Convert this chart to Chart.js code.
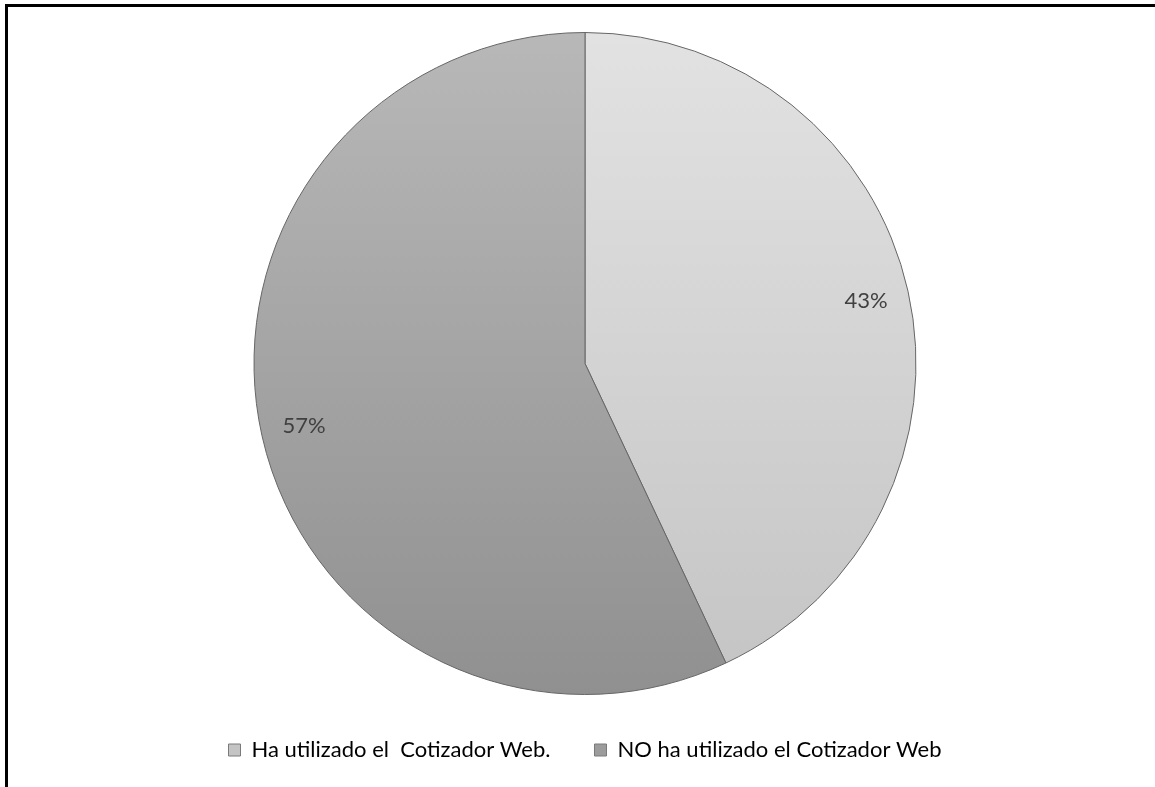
<!DOCTYPE html>
<html>
<head>
<meta charset="utf-8">
<script src="https://cdn.jsdelivr.net/npm/chart.js@4"></script>
<style>
  body { margin: 0; background: #fff; }
  #wrap { position: relative; width: 1155px; height: 787px; }
  #frame {
    position: absolute; left: 5px; top: 4px; right: 0; bottom: 0;
    border-top: 3px solid #000; border-left: 3px solid #000;
    pointer-events: none;
  }
</style>
</head>
<body>
<div id="wrap">
  <canvas id="pieChart"></canvas>
  <div id="frame"></div>
</div>
<script>
const categories = ["Ha utilizado el  Cotizador Web.", "NO ha utilizado el Cotizador Web"];
const percentages = [43, 57];
const sliceTop = ["#e2e2e2", "#b8b8b8"];
const sliceBottom = ["#c4c4c4", "#909090"];
const legendBoxes = ["#c4c4c4", "#9c9c9c"];

function sliceFill(context) {
  const chart = context.chart;
  const area = chart.chartArea;
  if (!area) return sliceTop[context.dataIndex];
  const g = chart.ctx.createLinearGradient(0, area.top, 0, area.bottom);
  g.addColorStop(0, sliceTop[context.dataIndex]);
  g.addColorStop(1, sliceBottom[context.dataIndex]);
  return g;
}

// percent labels inside the slices
const sliceLabels = {
  id: "sliceLabels",
  afterDatasetsDraw(chart) {
    const ctx = chart.ctx;
    const meta = chart.getDatasetMeta(0);
    ctx.save();
    ctx.font = "22px Lato";
    ctx.fillStyle = "#404040";
    ctx.textAlign = "center";
    ctx.textBaseline = "middle";
    meta.data.forEach((arc, i) => {
      const p = arc.getProps(["x", "y", "startAngle", "endAngle", "outerRadius"], true);
      const mid = (p.startAngle + p.endAngle) / 2;
      const r = p.outerRadius * 0.87;
      ctx.fillText(percentages[i] + "%", p.x + Math.cos(mid) * r, p.y + Math.sin(mid) * r);
    });
    ctx.restore();
  }
};

new Chart(document.getElementById("pieChart"), {
  type: "pie",
  data: {
    labels: categories,
    datasets: [
      {
        data: percentages,
        backgroundColor: sliceFill,
        borderColor: "#666666",
        borderWidth: 1
      }
    ]
  },
  options: {
    animation: false,
    responsive: true,
    maintainAspectRatio: false,
    layout: {
      padding: { top: 32, left: 15, right: 0, bottom: 16 }
    },
    plugins: {
      tooltip: { enabled: false },
      legend: {
        position: "bottom",
        labels: {
          boxWidth: 12,
          boxHeight: 12,
          padding: 44,
          color: "#595959",
          font: { family: "Lato", size: 22, lineHeight: 1 },
          generateLabels(chart) {
            return categories.map((text, i) => ({
              text,
              fillStyle: legendBoxes[i],
              strokeStyle: "#7a7a7a",
              lineWidth: 1,
              index: i
            }));
          }
        }
      }
    }
  },
  plugins: [sliceLabels]
});
</script>
</body>
</html>
